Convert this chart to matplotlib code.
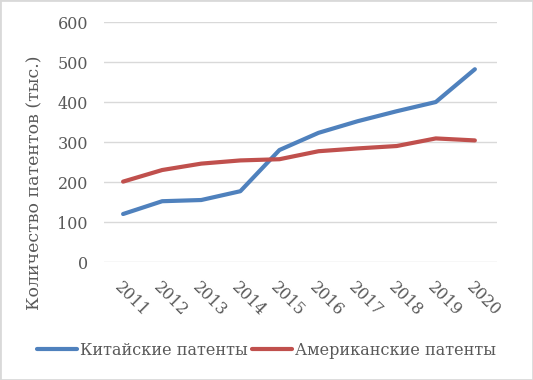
import matplotlib.pyplot as plt
from matplotlib.patches import Rectangle

years = ["2011", "2012", "2013", "2014", "2015", "2016", "2017", "2018", "2019", "2020"]
china = [120, 152, 155, 177, 280, 323, 352, 377, 400, 482]
usa = [201, 230, 246, 254, 257, 277, 284, 290, 309, 304]

text_color = "#595959"
plt.rcParams['font.family'] = ['DejaVu Serif']

fig = plt.figure(figsize=(5.33, 3.8), dpi=100)
ax = fig.add_axes([0.195, 0.3105, 0.737, 0.6315])

x = range(len(years))
ax.plot(x, china, color="#4f81bd", lw=3, solid_capstyle="round", label="Китайские патенты")
ax.plot(x, usa, color="#c0504d", lw=3, solid_capstyle="round", label="Американские патенты")

ax.set_ylim(0, 600)
ax.set_xlim(-0.49, 9.56)
ax.set_yticks(range(0, 601, 100))
ax.set_xticks(list(x))
ax.set_xticklabels(years, rotation=-45, ha="left", va="top", rotation_mode="anchor")
ax.tick_params(axis="both", length=0, colors=text_color, labelsize=11.5)
ax.tick_params(axis="x", pad=12)
ax.tick_params(axis="y", pad=11.5)
ax.grid(axis="y", color="#d9d9d9", lw=1)
ax.set_axisbelow(True)
for s in ax.spines.values():
    s.set_visible(False)

fig.text(0.066, 0.52, "Количество патентов (тыс.)", rotation=90, ha="center", va="center",
         fontsize=12.5, color=text_color)

leg = fig.legend(loc="center", bbox_to_anchor=(0.5, 0.078), ncol=2, frameon=False,
                 fontsize=11.5, handlelength=2.5, handletextpad=0.2, columnspacing=0.3)
for t in leg.get_texts():
    t.set_color(text_color)

fig.patches.append(Rectangle((0, 0), 1, 1, transform=fig.transFigure, fill=False,
                             edgecolor="#d9d9d9", lw=2))

fig.savefig("out.png", dpi=100)
